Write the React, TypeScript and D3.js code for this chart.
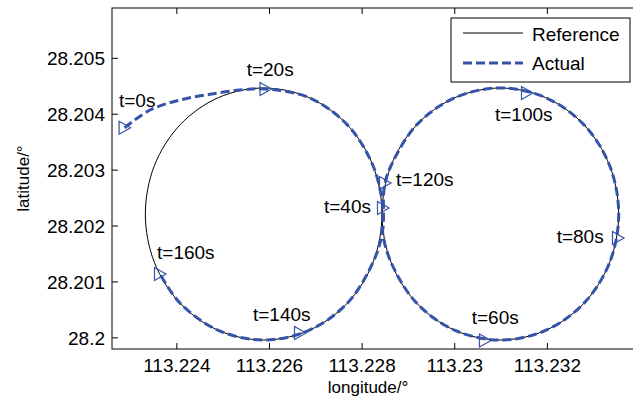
import React from "react";
import * as d3 from "d3";

// reference track: two touching circles (points every 22.5 deg)
const refLeftLon = [113.22843, 113.228236, 113.227682, 113.226853, 113.225875, 113.224897, 113.224068, 113.223514,
  113.22332, 113.223514, 113.224068, 113.224897, 113.225875, 113.226853, 113.227682, 113.228236];
const refRightLon = [113.23354, 113.233346, 113.232792, 113.231963, 113.230985, 113.230007, 113.229178, 113.228624,
  113.22843, 113.228624, 113.229178, 113.230007, 113.230985, 113.231963, 113.232792, 113.233346];
const refLat = [28.202215, 28.203078, 28.203809, 28.204297, 28.204469, 28.204297, 28.203809, 28.203078,
  28.202215, 28.201352, 28.200621, 28.200133, 28.199961, 28.200133, 28.200621, 28.201352];

// actual track, t = 0s .. 160s
const actLon = [113.222872, 113.22342, 113.224068, 113.224716, 113.225364, 113.225914,
  113.226853, 113.227682, 113.228236, 113.228451, 113.22844,
  113.228624, 113.229178, 113.230007, 113.230985, 113.231963, 113.232792, 113.233346, 113.23354,
  113.233346, 113.232792, 113.231963, 113.230985, 113.230007, 113.229178, 113.228624, 113.22848, 113.22844,
  113.228236, 113.227682, 113.226853, 113.225875, 113.224897, 113.224068, 113.223636];
const actLat = [28.203757, 28.204075, 28.204254, 28.204356, 28.204433, 28.204451,
  28.204297, 28.203809, 28.203078, 28.202322, 28.2019,
  28.201352, 28.200621, 28.200133, 28.199961, 28.200133, 28.200621, 28.201352, 28.202215,
  28.203078, 28.203809, 28.204297, 28.204469, 28.204297, 28.203809, 28.203078, 28.2027, 28.2019,
  28.201352, 28.200621, 28.200133, 28.199961, 28.200133, 28.200621, 28.201142];

// time markers
const markTimes = [0, 20, 40, 60, 80, 100, 120, 140, 160];
const markLon = [113.222872, 113.225914, 113.228451, 113.230653, 113.233525, 113.23156, 113.228494, 113.226659, 113.223636];
const markLat = [28.203757, 28.204451, 28.202322, 28.199952, 28.201786, 28.204379, 28.20277, 28.200086, 28.201142];
const labelLon = [113.222751, 113.225508, 113.227177, 113.230366, 113.232201, 113.230869, 113.228732, 113.225644, 113.223572];
const labelLat = [28.204129, 28.204684, 28.202228, 28.200242, 28.201691, 28.203884, 28.202716, 28.200306, 28.20141];

const xTicks = [113.224, 113.226, 113.228, 113.23, 113.232];
const xTickLabels = ["113.224", "113.226", "113.228", "113.23", "113.232"];
const yTicks = [28.2, 28.201, 28.202, 28.203, 28.204, 28.205];
const yTickLabels = ["28.2", "28.201", "28.202", "28.203", "28.204", "28.205"];

const font = "'Liberation Sans', Arial, Helvetica, sans-serif";
const blue = "#3553a8";

export default function App() {
  const W = 633, H = 405;
  const left = 112, right = 640, top = 8, bottom = 349;

  const x = d3.scaleLinear().domain([113.2226, 113.234]).range([left, right]);
  const y = d3.scaleLinear().domain([28.1998, 28.2059]).range([bottom, top]);

  const refPath = (lons: number[]) =>
    d3.line<number>()
      .x((_, i) => x(lons[i]))
      .y((_, i) => y(refLat[i]))
      .curve(d3.curveCatmullRomClosed)(lons) || "";

  const actPath = d3.line<number>()
    .x((_, i) => x(actLon[i]))
    .y((_, i) => y(actLat[i]))
    .curve(d3.curveCatmullRom)(actLon) || "";

  const tri = "M-5.5,-6.5 L6,0 L-5.5,6.5 Z";

  return (
    <svg width={W} height={H} style={{ position: "absolute", left: 0, top: 0, background: "#fff" }}
      fontFamily={font}>
      <rect x={0} y={0} width={W} height={H} fill="#fff" />

      <path d={refPath(refLeftLon)} fill="none" stroke="#000" strokeWidth={1} />
      <path d={refPath(refRightLon)} fill="none" stroke="#000" strokeWidth={1} />
      <path d={actPath} fill="none" stroke={blue} strokeWidth={3} strokeDasharray="9,4" />

      {markTimes.map((t, i) => (
        <g key={t}>
          <path d={tri} transform={`translate(${x(markLon[i])},${y(markLat[i])})`}
            fill="none" stroke={blue} strokeWidth={1.2} />
          <text x={x(labelLon[i])} y={y(labelLat[i])} fontSize={19} fill="#000">{`t=${t}s`}</text>
        </g>
      ))}

      {/* axes box, ticks point inward */}
      <rect x={left} y={top} width={right - left} height={bottom - top} fill="none" stroke="#000" strokeWidth={1} />
      {xTicks.map((v, i) => (
        <g key={v}>
          <line x1={x(v)} x2={x(v)} y1={bottom} y2={bottom - 6} stroke="#000" />
          <line x1={x(v)} x2={x(v)} y1={top} y2={top + 6} stroke="#000" />
          <text x={x(v)} y={372} textAnchor="middle" fontSize={19} fill="#000">{xTickLabels[i]}</text>
        </g>
      ))}
      {yTicks.map((v, i) => (
        <g key={v}>
          <line x1={left} x2={left + 6} y1={y(v)} y2={y(v)} stroke="#000" />
          <text x={105} y={y(v) + 7} textAnchor="end" fontSize={19} fill="#000">{yTickLabels[i]}</text>
        </g>
      ))}

      <text x={368} y={393} textAnchor="middle" fontSize={17} fill="#000">longitude/°</text>
      <text transform={`translate(29,${(top + bottom) / 2}) rotate(-90)`} textAnchor="middle" fontSize={17} fill="#000">latitude/°</text>

      {/* legend */}
      <rect x={451} y={18} width={179} height={64} fill="#fff" stroke="#000" strokeWidth={1} />
      <line x1={463} x2={523} y1={33} y2={33} stroke="#000" strokeWidth={1} />
      <text x={532} y={41} fontSize={19} fill="#000">Reference</text>
      <line x1={463} x2={523} y1={63} y2={63} stroke={blue} strokeWidth={3} strokeDasharray="9,4" />
      <text x={532} y={70} fontSize={19} fill="#000">Actual</text>
    </svg>
  );
}
